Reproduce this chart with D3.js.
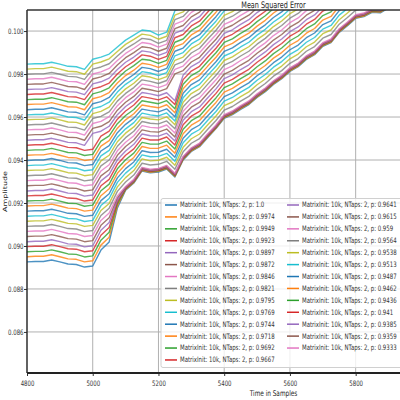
<!DOCTYPE html>
<html><head><meta charset="utf-8">
<script src="https://cdn.jsdelivr.net/npm/d3@7"></script>
<style>body{margin:0;background:#fff}svg{display:block}</style>
</head><body>
<svg id="c" width="400" height="400"></svg>
<script>
// ---- data ----
const samples = [4800,4825,4850,4875,4900,4925,4950,4975,5000,5025,5050,5075,5100,5125,5150,5175,5200,5225,5250,5275,5300,5325,5350,5375,5400,5425,5450,5475,5500,5525,5550,5575,5600,5625,5650,5675,5700,5725,5750,5775,5800,5825,5850,5875,5900,5925,5950];
const pLabels = ["1.0","0.9974","0.9949","0.9923","0.9897","0.9872","0.9846","0.9821","0.9795","0.9769","0.9744","0.9718","0.9692","0.9667","0.9641","0.9615","0.959","0.9564","0.9538","0.9513","0.9487","0.9462","0.9436","0.941","0.9385","0.9359","0.9333","0.9308","0.9282","0.9256","0.9231","0.9205","0.9179","0.9154","0.9128","0.9103","0.9077","0.9051","0.9026","0.9"];
const xTicks = [4800,5000,5200,5400,5600,5800];
const yTicks = [0.086,0.088,0.090,0.092,0.094,0.096,0.098,0.100];
// one row per p value (mean squared error at each sample of `samples`)
const mse = [
[0.08926,0.08928,0.08928,0.08935,0.08926,0.08916,0.08914,0.08902,0.08907,0.08981,0.09019,0.09177,0.09260,0.09293,0.09349,0.09340,0.09344,0.09358,0.09321,0.09400,0.09440,0.09462,0.09505,0.09546,0.09594,0.09611,0.09636,0.09658,0.09691,0.09718,0.09752,0.09778,0.09812,0.09834,0.09868,0.09890,0.09929,0.09946,0.09994,0.10025,0.10059,0.10067,0.10087,0.10085,0.10107],
[0.08950,0.08952,0.08952,0.08959,0.08950,0.08940,0.08938,0.08926,0.08931,0.09004,0.09041,0.09186,0.09263,0.09296,0.09352,0.09343,0.09347,0.09361,0.09324,0.09403,0.09443,0.09465,0.09508,0.09549,0.09597,0.09614,0.09639,0.09661,0.09694,0.09721,0.09755,0.09781,0.09815,0.09837,0.09871,0.09893,0.09932,0.09949,0.09997,0.10028,0.10062,0.10070,0.10090,0.10088,0.10110],
[0.08973,0.08975,0.08975,0.08982,0.08973,0.08963,0.08961,0.08949,0.08954,0.09027,0.09064,0.09196,0.09266,0.09299,0.09355,0.09346,0.09350,0.09364,0.09327,0.09406,0.09446,0.09468,0.09511,0.09552,0.09600,0.09617,0.09642,0.09664,0.09697,0.09724,0.09758,0.09784,0.09818,0.09840,0.09874,0.09896,0.09935,0.09952,0.10000,0.10031,0.10065,0.10073,0.10093,0.10091,0.10113],
[0.08997,0.08999,0.08999,0.09006,0.08997,0.08987,0.08985,0.08973,0.08978,0.09050,0.09086,0.09205,0.09268,0.09301,0.09357,0.09348,0.09352,0.09366,0.09329,0.09408,0.09448,0.09470,0.09513,0.09554,0.09602,0.09619,0.09644,0.09666,0.09699,0.09726,0.09760,0.09786,0.09820,0.09842,0.09876,0.09898,0.09937,0.09954,0.10002,0.10033,0.10067,0.10075,0.10095,0.10093,0.10115],
[0.09020,0.09022,0.09022,0.09029,0.09020,0.09010,0.09008,0.08996,0.09001,0.09073,0.09109,0.09214,0.09271,0.09304,0.09360,0.09351,0.09355,0.09369,0.09332,0.09411,0.09451,0.09473,0.09516,0.09557,0.09605,0.09622,0.09647,0.09669,0.09702,0.09729,0.09763,0.09789,0.09823,0.09845,0.09879,0.09901,0.09940,0.09957,0.10005,0.10036,0.10070,0.10078,0.10098,0.10096,0.10118],
[0.09044,0.09046,0.09046,0.09053,0.09044,0.09034,0.09032,0.09020,0.09025,0.09096,0.09131,0.09224,0.09274,0.09307,0.09363,0.09354,0.09358,0.09372,0.09335,0.09414,0.09454,0.09476,0.09519,0.09560,0.09608,0.09625,0.09650,0.09672,0.09705,0.09732,0.09766,0.09792,0.09826,0.09848,0.09882,0.09904,0.09943,0.09960,0.10008,0.10039,0.10073,0.10081,0.10101],
[0.09068,0.09070,0.09070,0.09077,0.09068,0.09058,0.09056,0.09044,0.09049,0.09119,0.09153,0.09233,0.09277,0.09310,0.09366,0.09357,0.09361,0.09375,0.09338,0.09417,0.09457,0.09479,0.09522,0.09563,0.09611,0.09628,0.09653,0.09675,0.09708,0.09735,0.09769,0.09795,0.09829,0.09851,0.09885,0.09907,0.09946,0.09963,0.10011,0.10042,0.10076,0.10084,0.10104],
[0.09091,0.09093,0.09093,0.09100,0.09091,0.09081,0.09079,0.09067,0.09072,0.09142,0.09176,0.09254,0.09298,0.09330,0.09385,0.09377,0.09380,0.09394,0.09357,0.09438,0.09478,0.09500,0.09543,0.09584,0.09632,0.09649,0.09674,0.09696,0.09729,0.09756,0.09790,0.09816,0.09850,0.09872,0.09906,0.09928,0.09967,0.09984,0.10032,0.10063,0.10097,0.10105],
[0.09115,0.09117,0.09117,0.09124,0.09115,0.09105,0.09103,0.09091,0.09096,0.09165,0.09198,0.09275,0.09318,0.09351,0.09405,0.09396,0.09399,0.09413,0.09376,0.09459,0.09499,0.09521,0.09564,0.09605,0.09653,0.09670,0.09695,0.09717,0.09750,0.09777,0.09811,0.09837,0.09871,0.09893,0.09927,0.09949,0.09988,0.10005,0.10053,0.10084,0.10118],
[0.09138,0.09140,0.09140,0.09147,0.09138,0.09128,0.09126,0.09114,0.09119,0.09188,0.09221,0.09296,0.09339,0.09371,0.09424,0.09415,0.09417,0.09431,0.09394,0.09480,0.09520,0.09542,0.09585,0.09626,0.09674,0.09691,0.09716,0.09738,0.09771,0.09798,0.09832,0.09858,0.09892,0.09914,0.09948,0.09970,0.10009,0.10026,0.10074,0.10105],
[0.09162,0.09164,0.09164,0.09171,0.09162,0.09152,0.09150,0.09138,0.09143,0.09211,0.09243,0.09317,0.09360,0.09391,0.09443,0.09435,0.09436,0.09450,0.09413,0.09501,0.09541,0.09563,0.09606,0.09647,0.09695,0.09712,0.09737,0.09759,0.09792,0.09819,0.09853,0.09879,0.09913,0.09935,0.09969,0.09991,0.10030,0.10047,0.10095,0.10126],
[0.09186,0.09188,0.09188,0.09195,0.09186,0.09176,0.09174,0.09162,0.09167,0.09234,0.09266,0.09338,0.09380,0.09412,0.09463,0.09454,0.09455,0.09469,0.09432,0.09522,0.09562,0.09584,0.09627,0.09668,0.09716,0.09733,0.09758,0.09780,0.09813,0.09840,0.09874,0.09900,0.09934,0.09956,0.09990,0.10012,0.10051,0.10068,0.10116],
[0.09209,0.09211,0.09211,0.09218,0.09209,0.09199,0.09197,0.09185,0.09190,0.09257,0.09288,0.09359,0.09401,0.09432,0.09482,0.09474,0.09474,0.09488,0.09451,0.09543,0.09583,0.09605,0.09648,0.09689,0.09737,0.09754,0.09779,0.09801,0.09834,0.09861,0.09895,0.09921,0.09955,0.09977,0.10011,0.10033,0.10072,0.10089,0.10137],
[0.09233,0.09235,0.09235,0.09242,0.09233,0.09223,0.09221,0.09209,0.09214,0.09280,0.09310,0.09380,0.09422,0.09452,0.09502,0.09493,0.09493,0.09507,0.09470,0.09564,0.09604,0.09626,0.09669,0.09710,0.09758,0.09775,0.09800,0.09822,0.09855,0.09882,0.09916,0.09942,0.09976,0.09998,0.10032,0.10054,0.10093,0.10110],
[0.09256,0.09258,0.09258,0.09265,0.09256,0.09246,0.09244,0.09232,0.09237,0.09303,0.09333,0.09401,0.09442,0.09473,0.09521,0.09513,0.09511,0.09525,0.09488,0.09585,0.09625,0.09647,0.09690,0.09731,0.09779,0.09796,0.09821,0.09843,0.09876,0.09903,0.09937,0.09963,0.09997,0.10019,0.10053,0.10075,0.10114],
[0.09280,0.09282,0.09282,0.09289,0.09280,0.09270,0.09268,0.09256,0.09261,0.09326,0.09355,0.09422,0.09463,0.09493,0.09540,0.09532,0.09530,0.09544,0.09507,0.09606,0.09646,0.09668,0.09711,0.09752,0.09800,0.09817,0.09842,0.09864,0.09897,0.09924,0.09958,0.09984,0.10018,0.10040,0.10074,0.10096,0.10135],
[0.09304,0.09306,0.09306,0.09313,0.09304,0.09294,0.09292,0.09280,0.09285,0.09349,0.09378,0.09443,0.09483,0.09513,0.09560,0.09552,0.09549,0.09563,0.09526,0.09627,0.09667,0.09689,0.09732,0.09773,0.09821,0.09838,0.09863,0.09885,0.09918,0.09945,0.09979,0.10005,0.10039,0.10061,0.10095,0.10117],
[0.09327,0.09329,0.09329,0.09336,0.09327,0.09317,0.09315,0.09303,0.09308,0.09373,0.09400,0.09464,0.09504,0.09534,0.09579,0.09571,0.09568,0.09582,0.09545,0.09648,0.09688,0.09710,0.09753,0.09794,0.09842,0.09859,0.09884,0.09906,0.09939,0.09966,0.10000,0.10026,0.10060,0.10082,0.10116],
[0.09351,0.09353,0.09353,0.09360,0.09351,0.09341,0.09339,0.09327,0.09332,0.09396,0.09422,0.09485,0.09525,0.09554,0.09598,0.09591,0.09587,0.09601,0.09564,0.09669,0.09709,0.09731,0.09774,0.09815,0.09863,0.09880,0.09905,0.09927,0.09960,0.09987,0.10021,0.10047,0.10081,0.10103],
[0.09374,0.09376,0.09376,0.09383,0.09374,0.09364,0.09362,0.09350,0.09355,0.09419,0.09445,0.09506,0.09545,0.09574,0.09618,0.09610,0.09605,0.09619,0.09582,0.09690,0.09730,0.09752,0.09795,0.09836,0.09884,0.09901,0.09926,0.09948,0.09981,0.10008,0.10042,0.10068,0.10102],
[0.09398,0.09400,0.09400,0.09407,0.09398,0.09388,0.09386,0.09374,0.09379,0.09442,0.09467,0.09527,0.09566,0.09595,0.09637,0.09630,0.09624,0.09638,0.09601,0.09711,0.09751,0.09773,0.09816,0.09857,0.09905,0.09922,0.09947,0.09969,0.10002,0.10029,0.10063,0.10089,0.10123],
[0.09422,0.09424,0.09424,0.09431,0.09422,0.09412,0.09410,0.09398,0.09403,0.09465,0.09490,0.09548,0.09587,0.09615,0.09656,0.09649,0.09643,0.09657,0.09620,0.09732,0.09772,0.09794,0.09837,0.09878,0.09926,0.09943,0.09968,0.09990,0.10023,0.10050,0.10084,0.10110],
[0.09445,0.09447,0.09447,0.09454,0.09445,0.09435,0.09433,0.09421,0.09426,0.09488,0.09512,0.09569,0.09607,0.09635,0.09676,0.09669,0.09662,0.09676,0.09639,0.09753,0.09793,0.09815,0.09858,0.09899,0.09947,0.09964,0.09989,0.10011,0.10044,0.10071,0.10105],
[0.09469,0.09471,0.09471,0.09478,0.09469,0.09459,0.09457,0.09445,0.09450,0.09511,0.09534,0.09590,0.09628,0.09656,0.09695,0.09688,0.09680,0.09694,0.09658,0.09774,0.09814,0.09836,0.09879,0.09920,0.09968,0.09985,0.10010,0.10032,0.10065,0.10092,0.10126],
[0.09492,0.09494,0.09494,0.09501,0.09492,0.09482,0.09480,0.09468,0.09524,0.09534,0.09557,0.09611,0.09649,0.09676,0.09714,0.09708,0.09699,0.09713,0.09676,0.09795,0.09835,0.09857,0.09900,0.09941,0.09989,0.10006,0.10031,0.10053,0.10086,0.10113],
[0.09516,0.09518,0.09518,0.09525,0.09516,0.09506,0.09504,0.09492,0.09547,0.09557,0.09579,0.09632,0.09669,0.09696,0.09734,0.09727,0.09718,0.09732,0.09801,0.09816,0.09856,0.09878,0.09921,0.09962,0.10010,0.10027,0.10052,0.10074,0.10107],
[0.09540,0.09542,0.09542,0.09549,0.09540,0.09530,0.09528,0.09516,0.09570,0.09580,0.09602,0.09653,0.09690,0.09717,0.09753,0.09747,0.09737,0.09751,0.09822,0.09837,0.09877,0.09899,0.09942,0.09983,0.10031,0.10048,0.10073,0.10095,0.10128],
[0.09563,0.09565,0.09565,0.09572,0.09563,0.09553,0.09551,0.09539,0.09593,0.09603,0.09624,0.09674,0.09710,0.09737,0.09773,0.09766,0.09756,0.09770,0.09843,0.09858,0.09898,0.09920,0.09963,0.10004,0.10052,0.10069,0.10094,0.10116],
[0.09587,0.09589,0.09589,0.09596,0.09587,0.09577,0.09575,0.09563,0.09616,0.09626,0.09646,0.09695,0.09731,0.09757,0.09792,0.09786,0.09774,0.09788,0.09864,0.09879,0.09919,0.09941,0.09984,0.10025,0.10073,0.10090,0.10115],
[0.09610,0.09612,0.09612,0.09619,0.09610,0.09600,0.09598,0.09586,0.09639,0.09649,0.09669,0.09716,0.09752,0.09778,0.09811,0.09805,0.09793,0.09807,0.09885,0.09900,0.09940,0.09962,0.10005,0.10046,0.10094,0.10111],
[0.09634,0.09636,0.09636,0.09643,0.09634,0.09624,0.09622,0.09610,0.09662,0.09672,0.09691,0.09737,0.09772,0.09798,0.09831,0.09825,0.09812,0.09826,0.09906,0.09921,0.09961,0.09983,0.10026,0.10067,0.10115],
[0.09658,0.09660,0.09660,0.09667,0.09658,0.09648,0.09646,0.09634,0.09685,0.09695,0.09714,0.09758,0.09793,0.09818,0.09850,0.09844,0.09831,0.09845,0.09927,0.09942,0.09982,0.10004,0.10047,0.10088,0.10136],
[0.09681,0.09683,0.09683,0.09690,0.09681,0.09671,0.09669,0.09657,0.09708,0.09718,0.09736,0.09779,0.09814,0.09839,0.09869,0.09864,0.09850,0.09864,0.09948,0.09963,0.10003,0.10025,0.10068,0.10109],
[0.09705,0.09707,0.09707,0.09714,0.09705,0.09695,0.09693,0.09681,0.09731,0.09741,0.09758,0.09800,0.09834,0.09859,0.09889,0.09883,0.09868,0.09882,0.09969,0.09984,0.10024,0.10046,0.10089,0.10130],
[0.09728,0.09730,0.09730,0.09737,0.09728,0.09718,0.09716,0.09704,0.09754,0.09764,0.09781,0.09821,0.09855,0.09879,0.09908,0.09902,0.09887,0.09901,0.09990,0.10005,0.10045,0.10067,0.10110],
[0.09752,0.09754,0.09754,0.09761,0.09752,0.09742,0.09740,0.09728,0.09777,0.09787,0.09803,0.09842,0.09876,0.09900,0.09927,0.09922,0.09906,0.09920,0.10011,0.10026,0.10066,0.10088,0.10131],
[0.09776,0.09778,0.09778,0.09785,0.09776,0.09766,0.09764,0.09752,0.09800,0.09810,0.09826,0.09863,0.09896,0.09920,0.09947,0.09941,0.09925,0.09939,0.10032,0.10047,0.10087,0.10109],
[0.09799,0.09801,0.09801,0.09808,0.09799,0.09789,0.09787,0.09775,0.09823,0.09833,0.09848,0.09884,0.09917,0.09940,0.09966,0.09961,0.09943,0.09957,0.10053,0.10068,0.10108],
[0.09823,0.09825,0.09825,0.09832,0.09823,0.09813,0.09811,0.09799,0.09846,0.09856,0.09871,0.09905,0.09938,0.09961,0.09986,0.09980,0.09962,0.09976,0.10074,0.10089,0.10129],
[0.09846,0.09848,0.09848,0.09855,0.09846,0.09836,0.09834,0.09822,0.09869,0.09879,0.09893,0.09926,0.09958,0.09981,0.10005,0.10000,0.09981,0.09995,0.10095,0.10110]
];

// ---- drawing ----
const colors = d3.schemeCategory10;
const FONT = "'DejaVu Sans', sans-serif";
const SX = 0.72;
const pL = 27, pR = 520, pT = 10, pB = 373;
const x = d3.scaleLinear().domain([4800, 6300]).range([pL, pR]);
const y = d3.scaleLinear().domain([0.08409, 0.10098]).range([pB, pT]);
const svg = d3.select('#c');

svg.append('rect').attr('width', 400).attr('height', 400).attr('fill', '#fff');

// grid
svg.append('g').selectAll('line').data(xTicks).join('line')
  .attr('x1', d => x(d)).attr('x2', d => x(d)).attr('y1', pT).attr('y2', pB)
  .attr('stroke', '#b0b0b0').attr('stroke-width', 1);
svg.append('g').selectAll('line').data(yTicks).join('line')
  .attr('x1', pL).attr('x2', pR).attr('y1', d => y(d)).attr('y2', d => y(d))
  .attr('stroke', '#b0b0b0').attr('stroke-width', 1);

// clip
svg.append('clipPath').attr('id', 'clip').append('rect')
  .attr('x', pL).attr('y', pT).attr('width', pR - pL).attr('height', pB - pT);

const line = d3.line().x((d, j) => x(samples[j])).y(d => y(d));
svg.append('g').attr('clip-path', 'url(#clip)')
  .selectAll('path').data(mse).join('path')
  .attr('d', line).attr('fill', 'none')
  .attr('stroke', (d, i) => colors[i % 10]).attr('stroke-width', 1.4)
  .attr('stroke-opacity', 0.8).attr('stroke-linejoin', 'round');

// axes ticks
const xAxis = svg.append('g').attr('transform', `translate(0,${pB})`)
  .call(d3.axisBottom(x).tickValues(xTicks).tickSize(3).tickFormat(d3.format('d')));
xAxis.select('.domain').remove();
xAxis.selectAll('line').attr('stroke', '#333');
xAxis.selectAll('text').attr('font-family', FONT).attr('font-size', 7.5).attr('fill', '#333')
  .attr('y', 0).attr('dy', 0).attr('transform', `translate(0,12.5) scale(${SX},1)`);

const yAxis = svg.append('g').attr('transform', `translate(${pL},0)`)
  .call(d3.axisLeft(y).tickValues(yTicks).tickSize(3).tickFormat(d3.format('.3f')));
yAxis.select('.domain').remove();
yAxis.selectAll('line').attr('stroke', '#333');
yAxis.selectAll('text').attr('font-family', FONT).attr('font-size', 7.5).attr('fill', '#333')
  .attr('x', 0).attr('dy', '0.32em').attr('transform', `translate(-3.5,0) scale(${SX},1)`);

// spines
svg.append('line').attr('x1', pL).attr('x2', pL).attr('y1', pT).attr('y2', pB)
  .attr('stroke', '#222').attr('stroke-width', 1.3);
svg.append('line').attr('x1', pL).attr('x2', pR).attr('y1', pB).attr('y2', pB)
  .attr('stroke', '#222').attr('stroke-width', 2);
svg.append('line').attr('x1', pL).attr('x2', pR).attr('y1', pT).attr('y2', pT)
  .attr('stroke', '#333').attr('stroke-width', 1.5);

// titles
const cx = (pL + pR) / 2;
svg.append('text').text('Mean Squared Error').attr('font-family', FONT).attr('font-size', 9)
  .attr('fill', '#222').attr('text-anchor', 'middle')
  .attr('transform', `translate(${cx},7.5) scale(${SX},1)`);
svg.append('text').text('Time in Samples').attr('font-family', FONT).attr('font-size', 8)
  .attr('fill', '#222').attr('text-anchor', 'middle')
  .attr('transform', `translate(${cx},396) scale(${SX},1)`);
svg.append('text').text('Amplitude').attr('font-family', FONT).attr('font-size', 8)
  .attr('fill', '#222').attr('text-anchor', 'middle')
  .attr('transform', `translate(7,191.5) scale(${SX},1) rotate(-90)`);

// legend: the figure is cropped, only its first two columns (14 + 13 entries) are in frame
const lg = svg.append('g');
lg.append('rect').attr('x', 161).attr('y', 198.5).attr('width', 355).attr('height', 169)
  .attr('rx', 2).attr('fill', '#fff').attr('fill-opacity', 0.8)
  .attr('stroke', '#d0d0d0').attr('stroke-width', 1);
const colStart = [0, 14];
pLabels.slice(0, 27).forEach((p, i) => {
  const col = i < 14 ? 0 : 1;
  const row = i - colStart[col];
  const ly = 205 + row * 11.92;
  const lx = 165 + col * 122;
  lg.append('line').attr('x1', lx).attr('x2', lx + 12).attr('y1', ly).attr('y2', ly)
    .attr('stroke', colors[i % 10]).attr('stroke-width', 1.5);
  lg.append('text').text(`MatrixInit: 10k, NTaps: 2, p: ${p}`)
    .attr('font-family', FONT).attr('font-size', 7.5).attr('fill', '#333')
    .attr('dy', '0.32em')
    .attr('transform', `translate(${lx + 15},${ly}) scale(${SX},1)`);
});
</script>
</body></html>
